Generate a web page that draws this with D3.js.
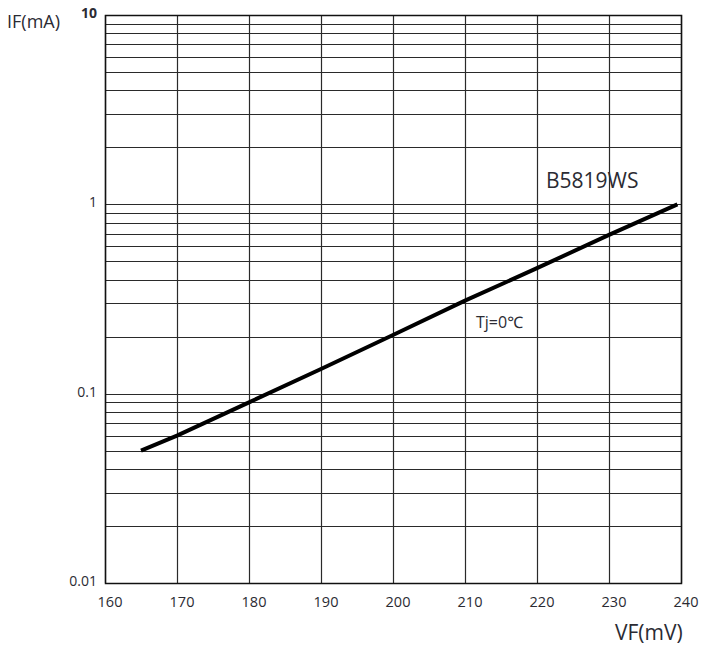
<!DOCTYPE html>
<html>
<head>
<meta charset="utf-8">
<script src="https://cdn.jsdelivr.net/npm/d3@7"></script>
<style>
  body { margin: 0; background: #fff; }
  text { font-family: "Open Sans", "Noto Sans", sans-serif; fill: #2b2b33; }
</style>
</head>
<body>
<svg id="chart"></svg>
<script>
// values (VF in mV, IF in mA)
var vf = [165, 170, 180, 190, 200, 210, 220, 230, 239.5];
var ifA = [0.05, 0.06, 0.09, 0.135, 0.204, 0.31, 0.46, 0.69, 1.0];

var xTicks = [160, 170, 180, 190, 200, 210, 220, 230, 240];
var yTicks = [0.01, 0.1, 1, 10];
var yTickLabels = ["0.01", "0.1", "1", "10"];

(function () {

    var width = 701, height = 655;
    var plotLeft = 105, plotRight = 681, plotTop = 15, plotBottom = 583;

    var svg = d3.select("#chart")
        .attr("width", width)
        .attr("height", height);

    var x = d3.scaleLinear().domain([160, 240]).range([plotLeft, plotRight]);
    var y = d3.scaleLog().domain([0.01, 10]).range([plotBottom, plotTop]);

    //Minor grid: 1..9 of every decade.
    var yGrid = [];
    [0.01, 0.1, 1].forEach(function (d) {
        for (var k = 1; k <= 9; k++) yGrid.push(d * k);
    });
    yGrid.push(10);

    svg.selectAll(".hgrid")
        .data(yGrid)
        .enter()
        .append("line")
        .attr("class", "hgrid")
        .attr("x1", plotLeft).attr("x2", plotRight)
        .attr("y1", function (d) { return Math.round(y(d)) + 0.5; })
        .attr("y2", function (d) { return Math.round(y(d)) + 0.5; })
        .attr("stroke", "#2a2a2a")
        .attr("stroke-width", 1.2);

    svg.selectAll(".vgrid")
        .data(xTicks)
        .enter()
        .append("line")
        .attr("class", "vgrid")
        .attr("y1", plotTop).attr("y2", plotBottom)
        .attr("x1", function (d) { return Math.round(x(d)) + 0.5; })
        .attr("x2", function (d) { return Math.round(x(d)) + 0.5; })
        .attr("stroke", "#2a2a2a")
        .attr("stroke-width", 1.2);

    //Frame.
    svg.append("rect")
        .attr("x", plotLeft + 0.5).attr("y", plotTop + 0.5)
        .attr("width", plotRight - plotLeft).attr("height", plotBottom - plotTop)
        .attr("fill", "none")
        .attr("stroke", "#111")
        .attr("stroke-width", 1.5);

    //Curve.
    var line = d3.line()
        .x(function (d, i) { return x(vf[i]); })
        .y(function (d) { return y(d); });

    svg.append("path")
        .datum(ifA)
        .attr("d", line)
        .attr("fill", "none")
        .attr("stroke", "#000")
        .attr("stroke-width", 4);

    //Tick labels.
    svg.selectAll(".ylab")
        .data(yTicks)
        .enter()
        .append("text")
        .attr("class", "ylab")
        .attr("x", 97)
        .attr("y", function (d) { return y(d) + 3; })
        .attr("text-anchor", "end")
        .style("font-size", "14px")
        .style("font-weight", function (d) { return d === 10 ? "bold" : "normal"; })
        .text(function (d, i) { return yTickLabels[i]; });

    svg.selectAll(".xlab")
        .data(xTicks)
        .enter()
        .append("text")
        .attr("class", "xlab")
        .attr("x", function (d) { return x(d) + 5; })
        .attr("y", 607)
        .attr("text-anchor", "middle")
        .style("font-size", "14.5px")
        .text(function (d) { return d; });

    //Axis titles and annotations.
    svg.append("text").attr("x", 7).attr("y", 28)
        .style("font-size", "18px").text("IF(mA)");

    svg.append("text").attr("x", 615).attr("y", 640)
        .style("font-size", "21px").text("VF(mV)");

    svg.append("text").attr("x", 546).attr("y", 188)
        .style("font-size", "21px").text("B5819WS");

    svg.append("text").attr("x", 476).attr("y", 328)
        .style("font-size", "16px").text("Tj=0℃");

})();
</script>
</body>
</html>
